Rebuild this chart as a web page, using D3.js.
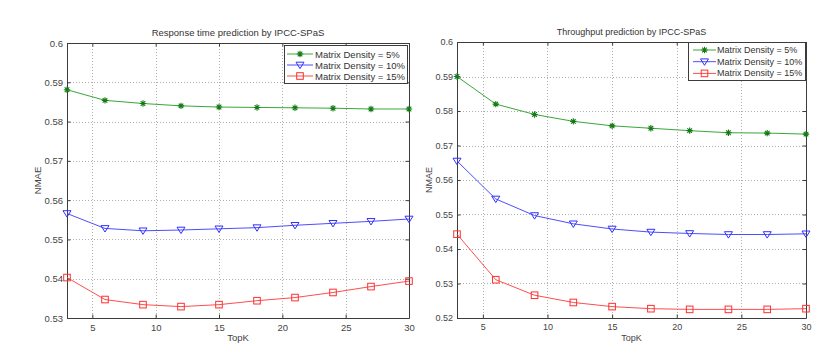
<!DOCTYPE html>
<html lang="en">
<head>
    <meta charset="UTF-8">
    <title>IPCC-SPaS NMAE</title>
    <script src="https://cdnjs.cloudflare.com/ajax/libs/d3/7.8.5/d3.min.js"></script>
    <style>
        body { margin: 0; background: #fff; }
        svg { display: block; font-family: "Liberation Sans", Arial, sans-serif; }
    </style>
</head>
<body>
    <div id="wrapper"></div>
    <script>
        // data
        const topK = [3, 6, 9, 12, 15, 18, 21, 24, 27, 30]
        const seriesNames = ['Matrix Density = 5%', 'Matrix Density = 10%', 'Matrix Density = 15%']

        const responseD5 = [0.5881, 0.5854, 0.5846, 0.5840, 0.5837, 0.5836, 0.5835, 0.5834, 0.5832, 0.5832]
        const responseD10 = [0.5566, 0.5528, 0.5522, 0.5524, 0.5527, 0.5530, 0.5536, 0.5541, 0.5546, 0.5552]
        const responseD15 = [0.5403, 0.5347, 0.5334, 0.5329, 0.5334, 0.5344, 0.5352, 0.5365, 0.5380, 0.5394]

        const throughputD5 = [0.5900, 0.5820, 0.5790, 0.5770, 0.5757, 0.5750, 0.5743, 0.5737, 0.5736, 0.5733]
        const throughputD10 = [0.5655, 0.5545, 0.5497, 0.5473, 0.5458, 0.5449, 0.5445, 0.5442, 0.5442, 0.5444]
        const throughputD15 = [0.5443, 0.5311, 0.5266, 0.5245, 0.5233, 0.5227, 0.5225, 0.5225, 0.5225, 0.5227]

        const xTicks = [5, 10, 15, 20, 25, 30]
        const responseYTicks = [0.53, 0.54, 0.55, 0.56, 0.57, 0.58, 0.59, 0.6]
        const throughputYTicks = [0.52, 0.53, 0.54, 0.55, 0.56, 0.57, 0.58, 0.59, 0.6]

        const colors = ['#3aa63a', '#4d4dff', '#ff4d4d']
        const markerColors = ['#127a12', '#3030ff', '#ff3030']
        const markers = ['star', 'triangle', 'square']

        const svg = d3.select('#wrapper')
            .append('svg')
                .attr('width', 839)
                .attr('height', 363)

        function drawMarker(g, type, color, x, y) {
            if (type === 'star') {
                const r = 3.2, d = 2.3
                g.append('path')
                    .attr('d', `M${x - r},${y}H${x + r}M${x},${y - r}V${y + r}M${x - d},${y - d}L${x + d},${y + d}M${x - d},${y + d}L${x + d},${y - d}`)
                    .attr('stroke', color)
                    .attr('stroke-width', 1.1)
                    .attr('fill', 'none')
            } else if (type === 'triangle') {
                g.append('path')
                    .attr('d', `M${x - 4},${y - 2.8}L${x + 4},${y - 2.8}L${x},${y + 3.6}Z`)
                    .attr('stroke', color)
                    .attr('fill', 'none')
            } else {
                g.append('rect')
                    .attr('x', x - 3.3)
                    .attr('y', y - 3.3)
                    .attr('width', 6.6)
                    .attr('height', 6.6)
                    .attr('stroke', color)
                    .attr('fill', 'none')
            }
        }

        function drawChart(opts) {
            const dims = opts.dims
            const fs = opts.fontSize + 'px'
            const bounds = svg.append('g')
                .attr('transform', `translate(${dims.left},${dims.top})`)
            const w = dims.width, h = dims.height

            const xScale = d3.scaleLinear().domain([3, 30]).range([0, w])
            const yScale = d3.scaleLinear()
                .domain(d3.extent(opts.yTicks))
                .range([h, 0])

            // grid
            const grid = bounds.append('g')
                .attr('stroke', '#9a9a9a')
                .attr('stroke-dasharray', '1,2')
                .attr('stroke-width', 0.8)
            grid.selectAll('.gx')
                .data(xTicks.filter(t => t < 30))
                .enter().append('line')
                    .attr('x1', d => Math.round(xScale(d)) + 0.5)
                    .attr('x2', d => Math.round(xScale(d)) + 0.5)
                    .attr('y1', 0)
                    .attr('y2', h)
            grid.selectAll('.gy')
                .data(opts.yTicks.slice(1, -1))
                .enter().append('line')
                    .attr('y1', d => Math.round(yScale(d)) + 0.5)
                    .attr('y2', d => Math.round(yScale(d)) + 0.5)
                    .attr('x1', 0)
                    .attr('x2', w)

            // axes (MATLAB style: ticks inward, box on)
            const tickLen = 3.5
            const xAxis = bounds.append('g')
                .attr('transform', `translate(0,${h})`)
                .call(d3.axisBottom(xScale).tickValues(xTicks).tickSizeInner(-tickLen).tickSizeOuter(0).tickPadding(6))
            const xAxisTop = bounds.append('g')
                .call(d3.axisTop(xScale).tickValues(xTicks).tickSizeInner(-tickLen).tickSizeOuter(0).tickFormat(''))
            const yAxis = bounds.append('g')
                .call(d3.axisLeft(yScale).tickValues(opts.yTicks).tickSizeInner(-tickLen).tickSizeOuter(0).tickPadding(4).tickFormat(d3.format('~g')))
            const yAxisRight = bounds.append('g')
                .attr('transform', `translate(${w},0)`)
                .call(d3.axisRight(yScale).tickValues(opts.yTicks).tickSizeInner(-tickLen).tickSizeOuter(0).tickFormat(''))

            ;[xAxis, xAxisTop, yAxis, yAxisRight].forEach(a => {
                a.select('.domain').attr('stroke', '#3c3c3c')
                a.selectAll('.tick line').attr('stroke', '#3c3c3c')
                a.selectAll('.tick text')
                    .attr('fill', '#444')
                    .style('font-size', fs)
            })

            // lines
            const lineGenerator = d3.line()
                .x((d, i) => xScale(topK[i]))
                .y(d => yScale(d))

            opts.series.forEach((values, si) => {
                const g = bounds.append('g')
                g.append('path')
                    .datum(values)
                    .attr('d', lineGenerator)
                    .attr('fill', 'none')
                    .attr('stroke', colors[si])
                    .attr('stroke-width', 1)
                values.forEach((v, i) => drawMarker(g, markers[si], markerColors[si], xScale(topK[i]), yScale(v)))
            })

            // title and axis labels
            bounds.append('text')
                .attr('x', w / 2)
                .attr('y', -7)
                .attr('fill', '#333')
                .style('font-size', fs)
                .style('text-anchor', 'middle')
                .text(opts.title)

            bounds.append('text')
                .attr('x', w / 2)
                .attr('y', h + 23)
                .attr('fill', '#444')
                .style('font-size', fs)
                .style('text-anchor', 'middle')
                .text('TopK')

            bounds.append('text')
                .attr('transform', `translate(${opts.yLabelX - dims.left},${h / 2}) rotate(-90)`)
                .attr('fill', '#444')
                .style('font-size', fs)
                .style('text-anchor', 'middle')
                .attr('dominant-baseline', 'central')
                .text('NMAE')

            // legend
            const L = opts.legend
            const lg = svg.append('g')
                .attr('transform', `translate(${L.x},${L.y})`)
            lg.append('rect')
                .attr('x', 0.5)
                .attr('y', 0.5)
                .attr('width', L.w)
                .attr('height', L.h)
                .attr('fill', '#fff')
                .attr('stroke', '#3c3c3c')
            seriesNames.forEach((name, si) => {
                const cy = L.row0 + si * L.rowStep
                lg.append('line')
                    .attr('x1', L.line[0])
                    .attr('x2', L.line[1])
                    .attr('y1', cy)
                    .attr('y2', cy)
                    .attr('stroke', colors[si])
                drawMarker(lg, markers[si], markerColors[si], (L.line[0] + L.line[1]) / 2, cy)
                lg.append('text')
                    .attr('x', L.textX)
                    .attr('y', cy)
                    .attr('dominant-baseline', 'central')
                    .attr('fill', '#333')
                    .style('font-size', fs)
                    .text(name)
            })
        }

        drawChart({
            title: 'Response time prediction by IPCC-SPaS',
            dims: { left: 67, top: 43, width: 342, height: 275 },
            yTicks: responseYTicks,
            series: [responseD5, responseD10, responseD15],
            yLabelX: 37,
            fontSize: 9.5,
            legend: { x: 284, y: 45, w: 123, h: 38, line: [3, 29], textX: 31, row0: 9, rowStep: 11 }
        })

        drawChart({
            title: 'Throughput prediction by IPCC-SPaS',
            dims: { left: 457, top: 42, width: 349, height: 276 },
            yTicks: throughputYTicks,
            series: [throughputD5, throughputD10, throughputD15],
            yLabelX: 429,
            fontSize: 9,
            legend: { x: 688, y: 42, w: 117, h: 38, line: [5, 28], textX: 29, row0: 8, rowStep: 11.7 }
        })
    </script>
</body>
</html>
